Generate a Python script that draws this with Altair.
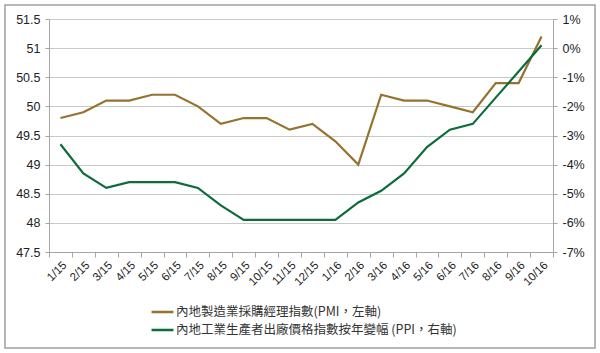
import altair as alt
import pandas as pd

months = ["1/15", "2/15", "3/15", "4/15", "5/15", "6/15", "7/15", "8/15", "9/15", "10/15", "11/15", "12/15",
          "1/16", "2/16", "3/16", "4/16", "5/16", "6/16", "7/16", "8/16", "9/16", "10/16"]
pmi = [49.8, 49.9, 50.1, 50.1, 50.2, 50.2, 50.0, 49.7, 49.8, 49.8, 49.6, 49.7,
       49.4, 49.0, 50.2, 50.1, 50.1, 50.0, 49.9, 50.4, 50.4, 51.2]
ppi = [-3.3, -4.3, -4.8, -4.6, -4.6, -4.6, -4.8, -5.4, -5.9, -5.9, -5.9, -5.9,
       -5.9, -5.3, -4.9, -4.3, -3.4, -2.8, -2.6, -1.7, -0.8, 0.1]
pmi_name = "內地製造業採購經理指數(PMI，左軸)"
ppi_name = "內地工業生產者出廠價格指數按年變幅 (PPI，右軸)"
left_ticks = [47.5, 48, 48.5, 49, 49.5, 50, 50.5, 51, 51.5]
right_ticks = [-7, -6, -5, -4, -3, -2, -1, 0, 1]

df = pd.DataFrame({
    "month": months * 2,
    "value": pmi + ppi,
    "series": [pmi_name] * len(months) + [ppi_name] * len(months),
})

FONT = "Liberation Sans"
GRID = "#C9C9C9"
AX = "#A6A6A6"

x = alt.X("month:O", sort=months, bandPosition=0.5,
          scale=alt.Scale(type="band", paddingInner=0, paddingOuter=0),
          axis=alt.Axis(title=None, labelAngle=-45, tickBand="extent", grid=False,
                        domainColor=AX, tickColor=AX, tickSize=5, labelFontSize=11.5,
                        labelFont=FONT, labelColor="#222222", labelPadding=2))

color = alt.Color("series:N",
                  scale=alt.Scale(domain=[pmi_name, ppi_name], range=["#96722F", "#0E6B3B"]),
                  legend=alt.Legend(title=None, orient="none", legendX=101, legendY=284,
                                    direction="vertical", symbolType="stroke",
                                    symbolSize=480, symbolStrokeWidth=2.5,
                                    labelFont="Noto Sans CJK TC", labelFontSize=12.5,
                                    labelColor="#333333", labelOffset=1, labelLimit=0,
                                    clipHeight=18, rowPadding=0))

base = alt.Chart(df)

pmi_line = base.transform_filter(alt.datum.series == pmi_name).mark_line(strokeWidth=2.2).encode(
    x=x,
    y=alt.Y("value:Q", scale=alt.Scale(domain=[47.5, 51.5], nice=False, zero=False),
            axis=alt.Axis(title=None, values=left_ticks, grid=True, gridColor=GRID,
                          domainColor=AX, tickColor=AX, tickSize=4, labelFontSize=12.5,
                          labelFont=FONT, labelColor="#222222", labelPadding=5,
                          format="~g", orient="left")),
    color=color,
)

ppi_line = base.transform_filter(alt.datum.series == ppi_name).mark_line(strokeWidth=2.2).encode(
    x=x,
    y=alt.Y("value:Q", scale=alt.Scale(domain=[-7, 1], nice=False, zero=False),
            axis=alt.Axis(title=None, values=right_ticks, grid=False,
                          domainColor=AX, tickColor=AX, tickSize=4, labelFontSize=12.5,
                          labelFont=FONT, labelColor="#222222", labelPadding=5,
                          labelExpr="datum.value + '%'", orient="right")),
    color=color,
)

frame = alt.Chart(pd.DataFrame({"a": [0]})).mark_rect(
    fill=None, stroke="#A0A0A0", strokeWidth=1.5, clip=False
).encode(x=alt.value(-44), x2=alt.value(546), y=alt.value(-14), y2=alt.value(329))

chart = alt.layer(pmi_line, ppi_line, frame).resolve_scale(y="independent").properties(
    width=504, height=233,
    autosize=alt.AutoSizeParams(type="none"),
    padding={"left": 49, "top": 19, "right": 47, "bottom": 101},
    background="white",
).configure_view(stroke=None)

chart.save("out.html", embed_options={"renderer": "svg", "actions": False})
